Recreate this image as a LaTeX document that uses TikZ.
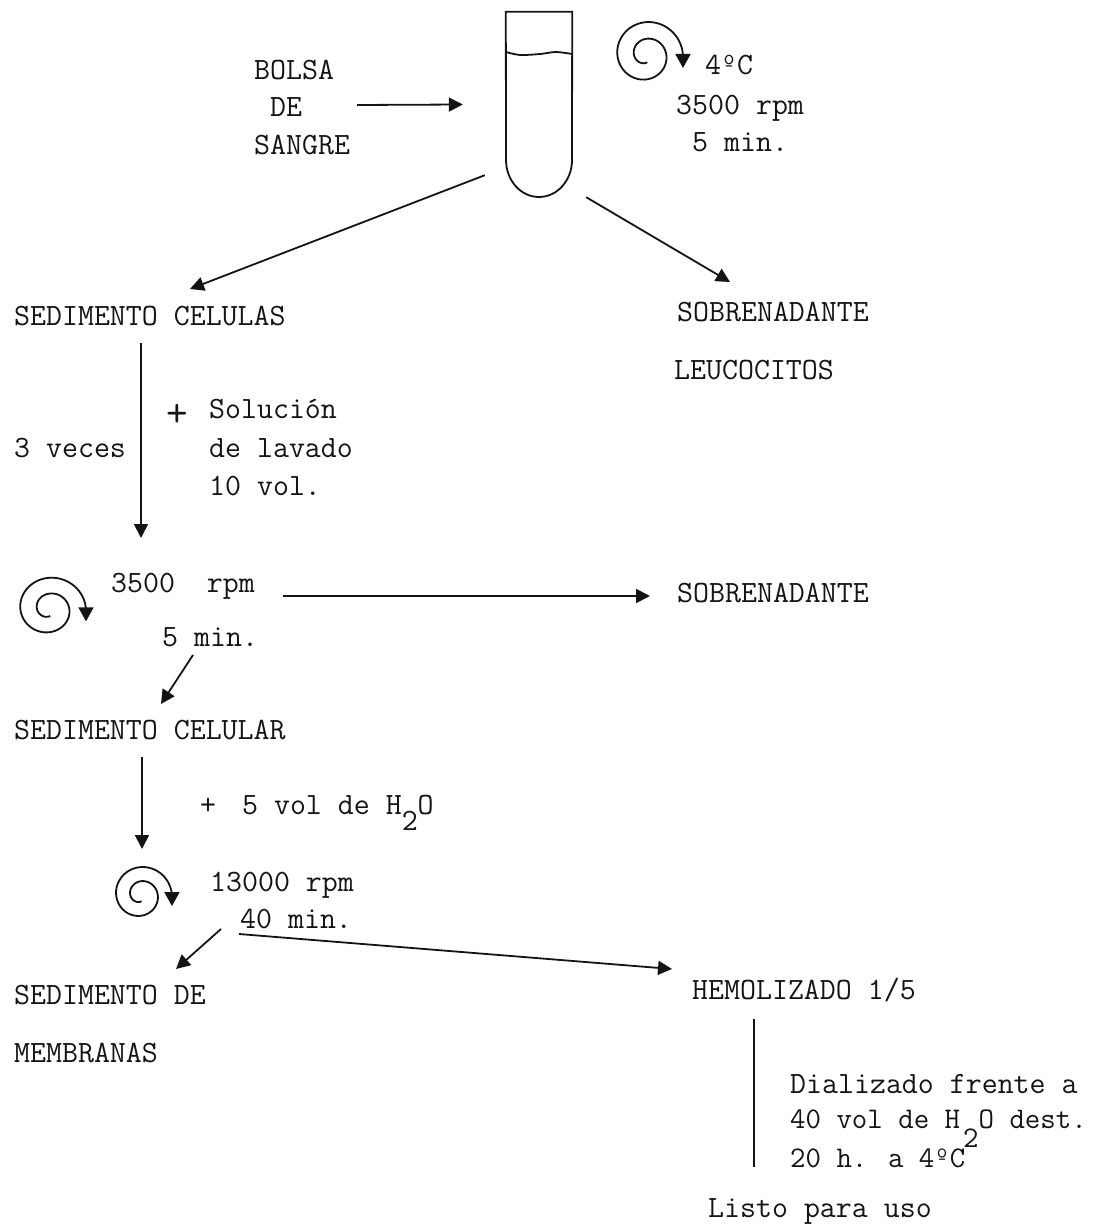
\documentclass[tikz,border=0pt]{standalone}
\usepackage{xcolor}
\usepackage{tikz}
\usetikzlibrary{arrows.meta, positioning, calc}
\definecolor{tinta}{RGB}{20, 20, 20}
\tikzset{
  texto/.style={anchor=base west, inner sep=0pt, text=tinta, font=\fontsize{31}{36}\selectfont\ttfamily},
  textob/.style={texto, font=\fontsize{30}{36}\selectfont\ttfamily},
  flecha/.style={-{Triangle[length=14pt, width=14pt]}, line width=1.8pt, tinta},
  linea/.style={line width=1.8pt, tinta},
  espiral/.pic={
    \draw[linea, smooth, -{Triangle[length=14pt, width=15pt]}]
      plot[domain=-640:0, samples=80] ({37*(1+\x/800)*cos(\x)}, {37*(1+\x/800)*sin(\x)}) -- ++(0,13);
  }
}
\newcommand{\subdos}[1]{\raisebox{-#1pt}{2}}

\begin{document}
\begin{tikzpicture}[x=1pt, y=-1pt]
    \useasboundingbox (0,0) rectangle (1094,1230);

    % tubo
    \node[minimum width=66pt, minimum height=185pt, inner sep=0pt] (tubo) at (539,104.5) {};
    \draw[linea] (tubo.north west) -- (tubo.north east) -- (572,160) arc[start angle=0, delta angle=180, x radius=33, y radius=37] -- cycle;
    \draw[linea] plot[smooth] coordinates {(506,52) (520,55) (540,54) (556,52) (572,54)};

    \pic at (646,55) {espiral};
    \pic[yscale=0.95] at (49,609) {espiral};
    \pic[scale=0.85] at (140.5,895) {espiral};

    \node[texto] (bolsa) at (254,80) {BOLSA};
    \node[texto] (de) at (270,117) {DE};
    \node[texto] (sangre) at (254,155) {SANGRE};
    \node[texto] (grados) at (705,75) {4ºC};
    \node[texto] (rpma) at (676,115) {3500 rpm};
    \node[texto] (mina) at (692,152) {5 min.};

    \node[texto] (celulas) at (14,325) {SEDIMENTO CELULAS};
    \node[texto] (sobrea) at (677,321) {SOBRENADANTE};
    \node[texto] (leuco) at (674,379) {LEUCOCITOS};

    \node[texto, font=\fontsize{42}{42}\selectfont\ttfamily] (mas) at (166,426) {+};
    \node[texto] (solucion) at (209,418) {Solución};
    \node[texto] (lavado) at (209,457) {de lavado};
    \node[texto] (vol) at (209,495) {10 vol.};
    \node[texto] (veces) at (14,457) {3 veces};

    \node[texto] (rpmb) at (111,592) {3500\ \ rpm};
    \node[texto] (minb) at (162,646) {5 min.};
    \node[texto] (sobreb) at (677,602) {SOBRENADANTE};
    \node[texto] (celular) at (14,739) {SEDIMENTO CELULAR};

    \node[texto] (agua) at (200,814) {+\hspace{10pt} 5 vol de H\subdos{16}O};
    \node[texto] (rpmc) at (210,891) {13000 rpm};
    \node[texto] (minc) at (240,928) {40 min.};
    \node[texto] (sedmem) at (14,1004) {SEDIMENTO DE};
    \node[texto] (membranas) at (14,1062) {MEMBRANAS};
    \node[texto] (hemol) at (692,999) {HEMOLIZADO 1/5};

    \node[texto] (dial) at (790,1093) {Dializado frente a};
    \node[textob] (dest) at (790,1128) {40 vol de H\hspace{3pt}\subdos{19}O dest.};
    \node[textob] (horas) at (790,1167) {20 h. a 4ºC};
    \node[texto] (listo) at (708,1217) {Listo para uso};

    \draw[flecha] ([shift={(87,-12)}]de.base west) -- ([shift={(-43,0)}]tubo.west);
    \draw[flecha] ([shift={(-21,-22)}]tubo.south west) -- ([shift={(176,-36)}]celulas.base west);
    \draw[flecha] ([shift={(14,0)}]tubo.south east) -- ([shift={(53,-39)}]sobrea.base west);
    \draw[flecha] ([shift={(127,18)}]celulas.base west) -- ([shift={(30,-54)}]rpmb.base west);
    \draw[flecha] ([shift={(172,4)}]rpmb.base west) -- ([shift={(-27,-6)}]sobreb.base west);
    \draw[flecha] ([shift={(31,9)}]minb.base west) -- ([shift={(147,-35)}]celular.base west);
    \draw[flecha] ([shift={(128,18)}]celular.base west) -- ([shift={(-68,-42)}]rpmc.base west);
    \draw[flecha] ([shift={(-19,1)}]minc.base west) -- ([shift={(162,-35)}]sedmem.base west);
    \draw[flecha] ([shift={(-1,6)}]minc.base west) -- ([shift={(-20,-30)}]hemol.base west);
    \draw[linea] ([shift={(62,20)}]hemol.base west) -- ([shift={(-36,0)}]horas.base west);
\end{tikzpicture}
\end{document}
